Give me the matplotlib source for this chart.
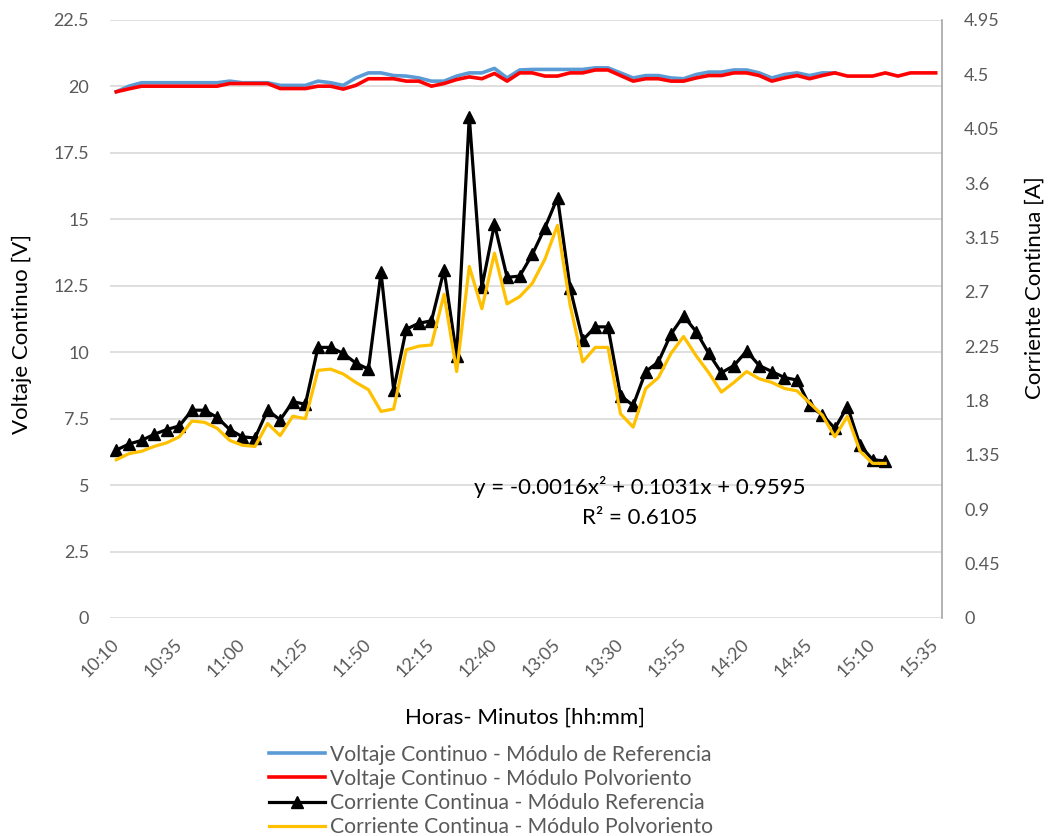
import matplotlib
matplotlib.use('Agg')
import matplotlib.pyplot as plt
import matplotlib.transforms as mtransforms
import numpy as np

plt.rcParams['font.family'] = ['Lato', 'DejaVu Sans']

# horas cada 5 minutos, 10:10 a 15:35
horas = []
for m in range(10 * 60 + 10, 15 * 60 + 36, 5):
    horas.append('%d:%02d' % (m // 60, m % 60))

# voltaje [V]
volt_ref = [19.80, 20.01, 20.14, 20.14, 20.14, 20.14, 20.14, 20.14, 20.14, 20.20,
            20.14, 20.14, 20.14, 20.04, 20.04, 20.04, 20.20, 20.14, 20.04, 20.32,
            20.51, 20.51, 20.41, 20.39, 20.32, 20.20, 20.20, 20.39, 20.51, 20.51,
            20.68, 20.32, 20.62, 20.64, 20.64, 20.64, 20.64, 20.64, 20.70, 20.70,
            20.51, 20.32, 20.41, 20.41, 20.32, 20.29, 20.45, 20.54, 20.54, 20.62,
            20.62, 20.51, 20.32, 20.45, 20.51, 20.41, 20.51, 20.51]
volt_polvo = [19.80, 19.91, 20.01, 20.01, 20.01, 20.01, 20.01, 20.01, 20.01, 20.11,
              20.11, 20.11, 20.11, 19.92, 19.92, 19.92, 20.01, 20.01, 19.90, 20.04,
              20.29, 20.29, 20.29, 20.20, 20.20, 20.01, 20.11, 20.26, 20.36, 20.29,
              20.49, 20.20, 20.51, 20.51, 20.39, 20.39, 20.51, 20.51, 20.62, 20.62,
              20.41, 20.20, 20.29, 20.29, 20.20, 20.20, 20.32, 20.41, 20.41, 20.51,
              20.51, 20.41, 20.20, 20.32, 20.41, 20.29, 20.41, 20.51, 20.39, 20.39,
              20.39, 20.51, 20.39, 20.51, 20.51, 20.51]

# corriente [A]
corr_ref = [1.39, 1.44, 1.47, 1.52, 1.56, 1.59, 1.72, 1.72, 1.66, 1.56,
            1.50, 1.49, 1.72, 1.64, 1.79, 1.77, 2.24, 2.24, 2.19, 2.11,
            2.06, 2.86, 1.89, 2.39, 2.44, 2.46, 2.88, 2.17, 4.15, 2.74,
            3.26, 2.82, 2.83, 3.01, 3.23, 3.48, 2.73, 2.30, 2.41, 2.41,
            1.84, 1.76, 2.04, 2.12, 2.35, 2.50, 2.37, 2.19, 2.03, 2.09,
            2.21, 2.09, 2.04, 1.99, 1.97, 1.76, 1.68, 1.57, 1.75, 1.43,
            1.31, 1.30]
corr_polvo = [1.31, 1.36, 1.38, 1.42, 1.45, 1.50, 1.63, 1.62, 1.57, 1.47,
              1.43, 1.42, 1.61, 1.51, 1.67, 1.65, 2.05, 2.06, 2.02, 1.95,
              1.89, 1.71, 1.73, 2.22, 2.25, 2.26, 2.68, 2.04, 2.91, 2.56,
              3.02, 2.60, 2.66, 2.77, 2.97, 3.25, 2.59, 2.12, 2.24, 2.24,
              1.69, 1.58, 1.90, 1.99, 2.19, 2.33, 2.17, 2.03, 1.87, 1.95,
              2.04, 1.98, 1.95, 1.90, 1.88, 1.78, 1.68, 1.50, 1.67, 1.38,
              1.28, 1.28]

v_ticks = [0, 2.5, 5, 7.5, 10, 12.5, 15, 17.5, 20, 22.5]
v_labels = ['0', '2.5', '5', '7.5', '10', '12.5', '15', '17.5', '20', '22.5']
a_ticks = [0, 0.45, 0.9, 1.35, 1.8, 2.25, 2.7, 3.15, 3.6, 4.05, 4.5, 4.95]
a_labels = ['0', '0.45', '0.9', '1.35', '1.8', '2.25', '2.7', '3.15', '3.6', '4.05', '4.5', '4.95']

gris = '#595959'

fig = plt.figure(figsize=(10.5, 8.36), dpi=100)
ax = fig.add_axes([110 / 1050, 1 - 618 / 836, 832 / 1050, 598 / 836])
ax2 = ax.twinx()

l1, = ax.plot(range(len(volt_ref)), volt_ref, color='#5B9BD5', lw=2.6)
l2, = ax.plot(range(len(volt_polvo)), volt_polvo, color='#FF0000', lw=2.6)
l3, = ax2.plot(range(len(corr_ref)), corr_ref, color='black', lw=2.3,
               marker='^', markersize=9)
l4, = ax2.plot(range(len(corr_polvo)), corr_polvo, color='#FFC000', lw=2.3)

ax.set_xlim(-0.5, len(horas) - 0.5)
ax.set_ylim(0, 22.5)
ax2.set_ylim(0, 4.95)
ax.set_yticks(v_ticks)
ax.set_yticklabels(v_labels)
ax2.set_yticks(a_ticks)
ax2.set_yticklabels(a_labels)

xt = list(range(0, len(horas), 5))
ax.set_xticks(xt)
ax.set_xticklabels([horas[i] for i in xt], rotation=45, ha='right', va='center',
                   rotation_mode='anchor')
# corre un poco las etiquetas de hora a la derecha
desplaza = mtransforms.ScaledTranslation(4 / 72, 0, fig.dpi_scale_trans)
for lab in ax.get_xticklabels():
    lab.set_transform(lab.get_transform() + desplaza)

ax.grid(axis='y', color='#D9D9D9', lw=1.2)
ax.set_axisbelow(True)
for s in ['top', 'left', 'bottom']:
    ax.spines[s].set_visible(False)
    ax2.spines[s].set_visible(False)
ax.spines['right'].set_visible(False)
ax2.spines['right'].set_color('#A6A6A6')
ax2.spines['right'].set_linewidth(1.2)

ax.tick_params(axis='y', length=0, pad=15, labelsize=13, labelcolor=gris)
ax.tick_params(axis='x', length=0, pad=17, labelsize=13, labelcolor=gris)
ax2.tick_params(axis='y', length=0, pad=16, labelsize=13, labelcolor=gris)

fig.text(22 / 1050, 1 - 334 / 836, 'Voltaje Continuo [V]', rotation=90,
         ha='center', va='center', fontsize=16)
fig.text(1035 / 1050, 1 - 288 / 836, 'Corriente Continua [A]', rotation=90,
         ha='center', va='center', fontsize=16)
fig.text(525 / 1050, 1 - 718 / 836, 'Horas- Minutos [hh:mm]',
         ha='center', va='center', fontsize=16)

fig.text(640 / 1050, 1 - 487 / 836, 'y = -0.0016x² + 0.1031x + 0.9595',
         ha='center', va='center', fontsize=16)
fig.text(640 / 1050, 1 - 518 / 836, 'R² = 0.6105',
         ha='center', va='center', fontsize=16)

leg = fig.legend([l1, l2, l3, l4],
                 ['Voltaje Continuo - Módulo de Referencia',
                  'Voltaje Continuo - Módulo Polvoriento',
                  'Corriente Continua - Módulo Referencia',
                  'Corriente Continua - Módulo Polvoriento'],
                 loc='upper left', bbox_to_anchor=(258 / 1050, 1 - 734 / 836),
                 frameon=False, fontsize=15.2, handlelength=2.65, handletextpad=0.25,
                 labelspacing=0.2, borderpad=0, labelcolor=gris)

fig.savefig('out.png', dpi=100)
